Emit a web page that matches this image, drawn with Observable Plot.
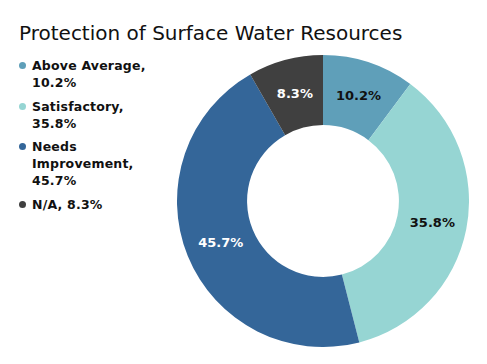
<!DOCTYPE html>
<html>
<head>
<meta charset="utf-8">
<script src="https://cdn.jsdelivr.net/npm/d3@7"></script>
<script src="https://cdn.jsdelivr.net/npm/@observablehq/plot@0.6"></script>
<style>
  html, body { margin: 0; padding: 0; background: #fff; }
  #wrap { position: relative; width: 487px; height: 364px; overflow: hidden; font-family: "DejaVu Sans", Verdana, sans-serif; }
  #title { position: absolute; left: 19px; top: 21px; font-size: 20px; color: #111; white-space: nowrap; }
  #legend { position: absolute; left: 17px; top: 57px; font-size: 12.5px; font-weight: bold; color: #111; line-height: 17px; letter-spacing: 0.2px; }
  .item { position: relative; padding-left: 15px; margin-bottom: 6.5px; }
  .dot { position: absolute; left: 2px; top: 5px; width: 7px; height: 7px; border-radius: 50%; }
  #chart { position: absolute; left: 177px; top: 55px; }
</style>
</head>
<body>
<div id="wrap">
  <div id="title">Protection of Surface Water Resources</div>
  <div id="legend"></div>
  <div id="chart"></div>
</div>
<script>
const categories = ["Above Average", "Satisfactory", "Needs Improvement", "N/A"];
const values = [10.2, 35.8, 45.7, 8.3];
const colors = ["#5f9fb9", "#96d5d3", "#346699", "#404040"];
const labelColors = ["#111", "#111", "#fff", "#fff"];
const legendLines = [["Above Average,", "10.2%"], ["Satisfactory,", "35.8%"], ["Needs", "Improvement,", "45.7%"], ["N/A, 8.3%"]];

const innerRatio = 0.52;

const data = categories.map((c, i) => ({category: c, value: values[i], color: colors[i], labelColor: labelColors[i]}));
const arcs = d3.pie().sort(null).value(d => d.value)(data);
const centroidArc = d3.arc().innerRadius(innerRatio).outerRadius(1);
const labels = arcs.map(a => {
  const [cx, cy] = centroidArc.centroid(a);
  return {x: cx, y: -cy, text: a.data.value.toFixed(1) + "%", fill: a.data.labelColor};
});

// legend
const legend = d3.select("#legend");
data.forEach((d, i) => {
  const item = legend.append("div").attr("class", "item");
  item.append("span").attr("class", "dot").style("background", d.color);
  item.append("div").html(legendLines[i].join("<br>"));
});

const size = 292;
const donut = (index, scales) => {
  const g = d3.create("svg:g");
  const cx = scales.x(0), cy = scales.y(0);
  const r = scales.x(1) - scales.x(0);
  const arc = d3.arc().innerRadius(r * innerRatio).outerRadius(r);
  g.attr("transform", `translate(${cx},${cy})`)
    .selectAll("path").data(arcs).join("path")
    .attr("d", arc)
    .attr("fill", d => d.data.color);
  return g.node();
};

const chart = Plot.plot({
  width: size,
  height: size,
  margin: 0,
  x: {domain: [-1, 1], axis: null},
  y: {domain: [-1, 1], axis: null},
  style: {fontFamily: "'DejaVu Sans', Verdana, sans-serif", background: "transparent"},
  marks: [
    donut,
    Plot.text(labels, {x: "x", y: "y", text: "text", fill: "fill", fontSize: 13, fontWeight: "bold"})
  ]
});
document.getElementById("chart").appendChild(chart);
</script>
</body>
</html>
